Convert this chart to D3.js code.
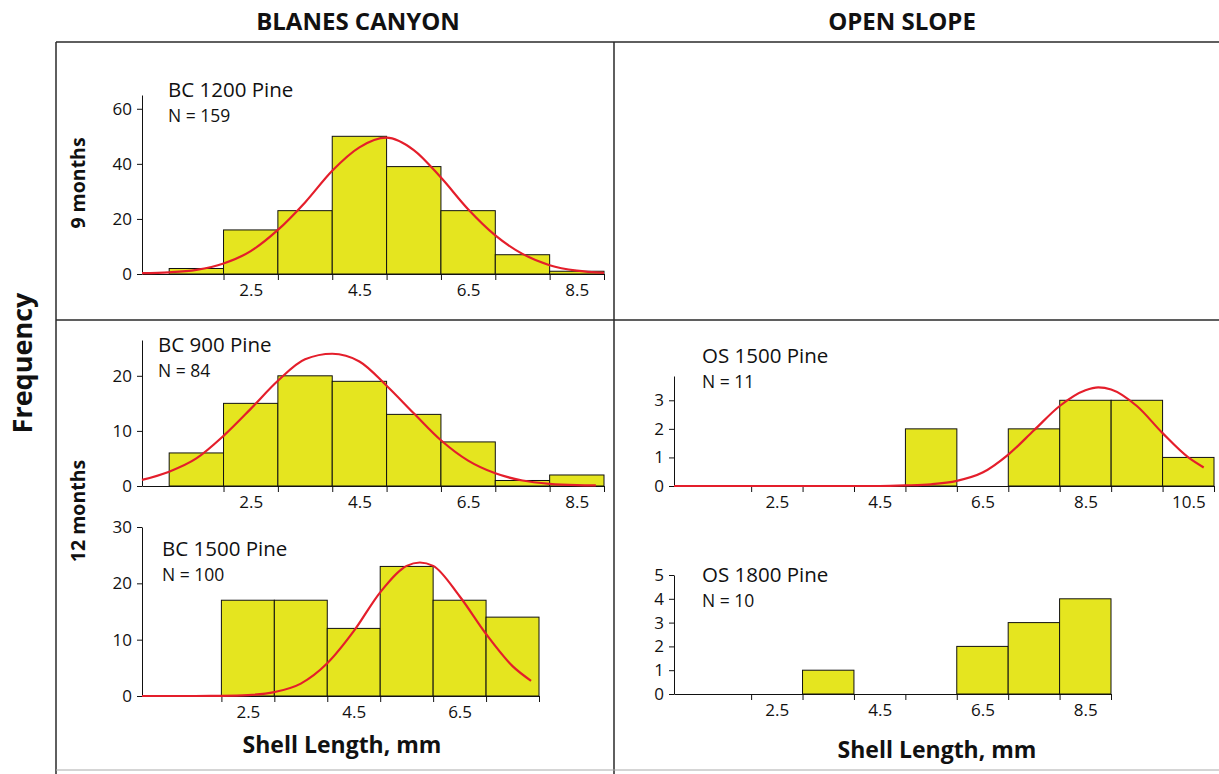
<!DOCTYPE html>
<html>
<head>
<meta charset="utf-8">
<script src="https://cdn.jsdelivr.net/npm/d3@7"></script>
<style>
  html, body { margin: 0; padding: 0; background: #fff; }
  svg { display: block; }
  text { font-family: "Open Sans", "Noto Sans", sans-serif; fill: #111; }
</style>
</head>
<body>
<svg id="chart" width="1219" height="774"></svg>
<script>
// ---- Shell length frequency data (1 mm size classes, value = lower edge) ----

// Blanes Canyon, 9 months: BC 1200 Pine
const bc1200Start = [1, 2, 3, 4, 5, 6, 7, 8];
const bc1200Count = [2, 16, 23, 50, 39, 23, 7, 1];
const bc1200CurveX = [0.5, 1, 1.5, 2, 2.5, 3, 3.5, 4, 4.5, 5, 5.5, 6, 6.5, 7, 7.5, 8, 8.5, 9];
const bc1200CurveY = [0.3, 0.6, 1.5, 3.8, 8.3, 16, 26, 37.5, 46, 49.5, 45, 35, 23.5, 14, 7.3, 3.2, 1.2, 0.4];

// Blanes Canyon, 12 months: BC 900 Pine
const bc900Start = [1, 2, 3, 4, 5, 6, 7, 8];
const bc900Count = [6, 15, 20, 19, 13, 8, 1, 2];
const bc900CurveX = [0.5, 1, 1.5, 2, 2.5, 3, 3.5, 4, 4.5, 5, 5.5, 6, 6.5, 7, 7.5, 8, 8.5, 8.85];
const bc900CurveY = [1.1, 2.6, 5.0, 9.1, 14.0, 19.1, 23.0, 24.0, 22.6, 18.2, 13.2, 8.3, 4.6, 2.3, 1.0, 0.4, 0.15, 0.1];

// Blanes Canyon, 12 months: BC 1500 Pine
const bc1500Start = [2, 3, 4, 5, 6, 7];
const bc1500Count = [17, 17, 12, 23, 17, 14];
const bc1500CurveX = [0.5, 1.5, 2, 2.5, 3, 3.5, 4, 4.5, 5, 5.5, 5.75, 6, 6.5, 7, 7.5, 7.85];
const bc1500CurveY = [0, 0, 0.03, 0.16, 0.7, 2.2, 5.8, 11.5, 18.4, 23.1, 23.7, 23.1, 17.7, 11.0, 5.3, 2.7];

// Open Slope, 12 months: OS 1500 Pine
const os1500Start = [5, 7, 8, 9, 10];
const os1500Count = [2, 2, 3, 3, 1];
const os1500CurveX = [0.5, 4.5, 5, 5.5, 6, 6.5, 7, 7.5, 8, 8.5, 8.75, 9, 9.5, 10, 10.5, 10.8];
const os1500CurveY = [0, 0, 0.02, 0.06, 0.18, 0.47, 1.1, 1.95, 2.8, 3.35, 3.45, 3.38, 2.8, 1.85, 1.0, 0.65];

// Open Slope, 12 months: OS 1800 Pine
const os1800Start = [3, 6, 7, 8];
const os1800Count = [1, 2, 3, 4];

// Axis tick values and labels
const bc1200YTicks = [0, 20, 40, 60];
const bc900YTicks = [0, 10, 20];
const bc1500YTicks = [0, 10, 20, 30];
const os1500YTicks = [0, 1, 2, 3];
const os1800YTicks = [0, 1, 2, 3, 4, 5];
const bc1200XLabels = [2.5, 4.5, 6.5, 8.5];
const bc900XLabels = [2.5, 4.5, 6.5, 8.5];
const bc1500XLabels = [2.5, 4.5, 6.5];
const os1500XLabels = [2.5, 4.5, 6.5, 8.5, 10.5];
const os1800XLabels = [2.5, 4.5, 6.5, 8.5];

const svg = d3.select("#chart");
const W = 1219, H = 774;
svg.append("rect").attr("width", W).attr("height", H).attr("fill", "#fff");

const BAR_FILL = "#e5e51f";
const CURVE = "#e41e2b";

// ---- frame ----
const frame = svg.append("g").attr("stroke", "#2a2a2a").attr("stroke-width", 1.5);
[[56, 42, W, 42], [56, 320, W, 320], [56, 42, 56, H], [614, 42, 614, H]]
  .forEach(([x1, y1, x2, y2]) => frame.append("line")
    .attr("x1", x1).attr("y1", y1).attr("x2", x2).attr("y2", y2));
svg.append("line").attr("x1", 56).attr("y1", 770).attr("x2", W).attr("y2", 770)
  .attr("stroke", "#aaa").attr("stroke-width", 1);

// ---- headings ----
svg.append("text").attr("x", 358).attr("y", 30).attr("text-anchor", "middle")
  .attr("font-size", 24).attr("font-weight", 700).text("BLANES CANYON");
svg.append("text").attr("x", 902).attr("y", 30).attr("text-anchor", "middle")
  .attr("font-size", 24).attr("font-weight", 700).text("OPEN SLOPE");

svg.append("text").attr("transform", "translate(32,363) rotate(-90)")
  .attr("text-anchor", "middle").attr("font-size", 27).attr("font-weight", 700).text("Frequency");
svg.append("text").attr("transform", "translate(85,183) rotate(-90)")
  .attr("text-anchor", "middle").attr("font-size", 19.5).attr("font-weight", 700).text("9 months");
svg.append("text").attr("transform", "translate(85,511) rotate(-90)")
  .attr("text-anchor", "middle").attr("font-size", 19.5).attr("font-weight", 700).text("12 months");

svg.append("text").attr("x", 342).attr("y", 753).attr("text-anchor", "middle")
  .attr("font-size", 23).attr("font-weight", 700).text("Shell Length, mm");
svg.append("text").attr("x", 937).attr("y", 758).attr("text-anchor", "middle")
  .attr("font-size", 23).attr("font-weight", 700).text("Shell Length, mm");

// ---- one histogram panel ----
function panel(opt) {
  const x = d3.scaleLinear().domain(opt.xDomain).range(opt.xRange);
  const y = d3.scaleLinear().domain(opt.yDomain).range(opt.yRange);
  const g = svg.append("g");
  const bins = opt.start.map((s, i) => ({ s, n: opt.count[i] }));

  // bars
  g.selectAll("rect.bar").data(bins).join("rect")
    .attr("class", "bar")
    .attr("x", d => x(d.s))
    .attr("width", d => x(d.s + 1) - x(d.s))
    .attr("y", d => y(d.n))
    .attr("height", d => y(0) - y(d.n))
    .attr("fill", BAR_FILL)
    .attr("stroke", "#111")
    .attr("stroke-width", 1);

  // x axis: ticks at class boundaries, labels at class midpoints
  const maxX = opt.xDomain[1];
  const bounds = d3.range(2, Math.round(maxX) + 1);
  const xAxis = g.append("g").attr("transform", `translate(0,${y(0)})`)
    .call(d3.axisBottom(x).tickValues(bounds).tickSize(6).tickSizeOuter(0).tickFormat(""));
  xAxis.selectAll("path, line").attr("stroke", "#111");
  const xLab = g.append("g").attr("transform", `translate(0,${y(0)})`)
    .call(d3.axisBottom(x).tickValues(opt.xLabels).tickSize(0).tickPadding(10)
      .tickFormat(d3.format(".1f")));
  xLab.select(".domain").remove();
  xLab.selectAll("text").attr("font-size", 17).attr("font-family", "Open Sans, sans-serif").attr("fill", "#222");

  // y axis
  const yAxis = g.append("g").attr("transform", `translate(${opt.xRange[0]},0)`)
    .call(d3.axisLeft(y).tickValues(opt.yTicks).tickSize(5).tickSizeOuter(0).tickPadding(5)
      .tickFormat(d3.format("d")));
  yAxis.selectAll("path, line").attr("stroke", "#111");
  yAxis.selectAll("text").attr("font-size", 17).attr("font-family", "Open Sans, sans-serif").attr("fill", "#222");

  // fitted curve
  if (opt.curveX) {
    const pts = opt.curveX.map((v, i) => [v, opt.curveY[i]]);
    g.append("path").datum(pts)
      .attr("fill", "none").attr("stroke", CURVE).attr("stroke-width", 2.2)
      .attr("stroke-linejoin", "round")
      .attr("d", d3.line().x(d => x(d[0])).y(d => y(d[1])).curve(d3.curveMonotoneX));
  }

  // station label
  g.append("text").attr("x", opt.label[0]).attr("y", opt.label[1])
    .attr("font-size", 20.5).text(opt.title);
  g.append("text").attr("x", opt.label[0]).attr("y", opt.label[1] + 25)
    .attr("font-size", 17.5).text(opt.n);
}

panel({
  title: "BC 1200 Pine", n: "N = 159", label: [168, 97],
  start: bc1200Start, count: bc1200Count, curveX: bc1200CurveX, curveY: bc1200CurveY,
  xDomain: [0.5, 9], xRange: [142, 604], yDomain: [0, 65], yRange: [274, 95],
  yTicks: bc1200YTicks, xLabels: bc1200XLabels
});

panel({
  title: "BC 900 Pine", n: "N = 84", label: [158, 352],
  start: bc900Start, count: bc900Count, curveX: bc900CurveX, curveY: bc900CurveY,
  xDomain: [0.5, 9], xRange: [142, 604], yDomain: [0, 26.5], yRange: [486, 340],
  yTicks: bc900YTicks, xLabels: bc900XLabels
});

panel({
  title: "BC 1500 Pine", n: "N = 100", label: [162, 556],
  start: bc1500Start, count: bc1500Count, curveX: bc1500CurveX, curveY: bc1500CurveY,
  xDomain: [0.5, 8], xRange: [142, 539], yDomain: [0, 30], yRange: [696, 527],
  yTicks: bc1500YTicks, xLabels: bc1500XLabels
});

panel({
  title: "OS 1500 Pine", n: "N = 11", label: [702, 363],
  start: os1500Start, count: os1500Count, curveX: os1500CurveX, curveY: os1500CurveY,
  xDomain: [0.5, 11], xRange: [674, 1214], yDomain: [0, 3.85], yRange: [486, 376],
  yTicks: os1500YTicks, xLabels: os1500XLabels
});

panel({
  title: "OS 1800 Pine", n: "N = 10", label: [702, 582],
  start: os1800Start, count: os1800Count,
  xDomain: [0.5, 9], xRange: [674, 1111], yDomain: [0, 5], yRange: [694, 575],
  yTicks: os1800YTicks, xLabels: os1800XLabels
});
</script>
</body>
</html>
